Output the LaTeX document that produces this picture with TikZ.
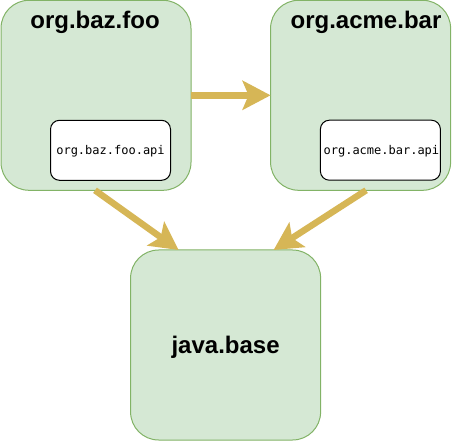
\documentclass[tikz,border=0pt]{standalone}
\usepackage{fontspec}
\setmainfont{Liberation Sans}
\newfontfamily\apimono{DejaVu Sans Mono}
\usetikzlibrary{arrows.meta}
\definecolor{gfill}{HTML}{D5E8D4}
\definecolor{gstroke}{HTML}{82B366}
\definecolor{arrowc}{HTML}{D6B656}
\begin{document}
\begin{tikzpicture}[x=1pt,y=-1pt,
  modbox/.style={draw=gstroke, fill=gfill, line width=1pt, rounded corners=28pt,
    minimum height=190pt, inner sep=0pt, outer sep=0pt},
  apibox/.style={draw=black, fill=white, line width=1pt, rounded corners=9pt,
    minimum width=120pt, minimum height=60pt, inner sep=0pt, outer sep=0pt},
  modtitle/.style={font=\bfseries\fontsize{24}{28}\selectfont, anchor=base, inner sep=0pt},
  apitext/.style={font=\apimono\fontsize{12}{14}\selectfont, anchor=base, inner sep=0pt},
  dep/.style={draw=arrowc, line width=6.5pt,
    -{Stealth[length=28pt,width=29pt,inset=6pt]}}]
\useasboundingbox (0,0) rectangle (461,441);
% modules
\node[modbox, minimum width=190pt] (foo) at (96,95.3) {};
\node[modbox, minimum width=180pt] (bar) at (360.6,95.3) {};
\node[modbox, minimum width=190pt] (java) at (225.6,345) {};
% api boxes
\node[apibox] (fooapi) at (110.5,150.3) {};
\node[apibox] (barapi) at (380.4,150.2) {};
% titles
\node[modtitle] (footitle) at (95,29) {org.baz.foo};
\node[modtitle] (bartitle) at (366,29) {org.acme.bar};
\node[modtitle] (javatitle) at (225.6,353) {java.base};
\node[apitext] (fooapitext) at (110.5,155) {org.baz.foo.api};
\node[apitext] (barapitext) at (381.4,155) {org.acme.bar.api};
% dependencies
\draw[dep] (foo) -- (bar);
\draw[dep] ([xshift=-1pt]foo.south) -- ([xshift=48pt]java.north west);
\draw[dep] ([xshift=5.5pt]bar.south) -- ([xshift=-47pt]java.north east);
\end{tikzpicture}
\end{document}
